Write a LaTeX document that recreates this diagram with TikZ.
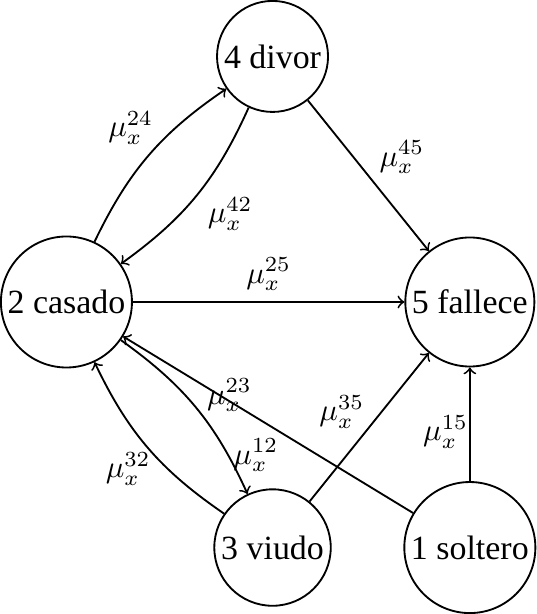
\documentclass[tikz,border=0pt]{standalone}
\usepackage{fontspec}
\setmainfont{Liberation Serif}

\begin{document}
\begin{tikzpicture}[
    semithick,
    estado/.style={circle, draw, inner sep=1.5pt, font=\fontsize{11}{13}\selectfont},
    arrow/.style={->}
]

\node[estado] (casado)  at (0, 0)       {2 casado};
\node[estado] (divor)   at (2.35, 2.8)  {4 divor};
\node[estado] (fallece) at (4.6, 0)     {5 fallece};
\node[estado] (viudo)   at (2.35, -2.8) {3 viudo};
\node[estado] (soltero) at (4.6, -2.8)  {1 soltero};

% Edges
\draw[arrow] (casado) to[bend left=15] node[above left, xshift=5pt] {$\mu_x^{24}$} (divor);
\draw[arrow] (divor) to[bend left=15] node[below right, yshift=3pt] {$\mu_x^{42}$} (casado);

\draw[arrow] (divor) -- node[above right, yshift=-3pt] {$\mu_x^{45}$} (fallece);
\draw[arrow] (casado) -- node[above] {$\mu_x^{25}$} (fallece);

\draw[arrow] (casado) to[bend left=15] node[above right, yshift=-5pt] {$\mu_x^{23}$} (viudo);
\draw[arrow] (viudo) to[bend left=15] node[below left, xshift=4.5pt, yshift=2pt] {$\mu_x^{32}$} (casado);

\draw[arrow] (soltero) -- node[below, xshift=-4pt, yshift=-1pt] {$\mu_x^{12}$} (casado);
\draw[arrow] (viudo) -- node[above left, xshift=2pt, yshift=-4pt] {$\mu_x^{35}$} (fallece);
\draw[arrow] (soltero) -- node[left, xshift=3pt, yshift=-2.5pt] {$\mu_x^{15}$} (fallece);

\end{tikzpicture}
\end{document}
